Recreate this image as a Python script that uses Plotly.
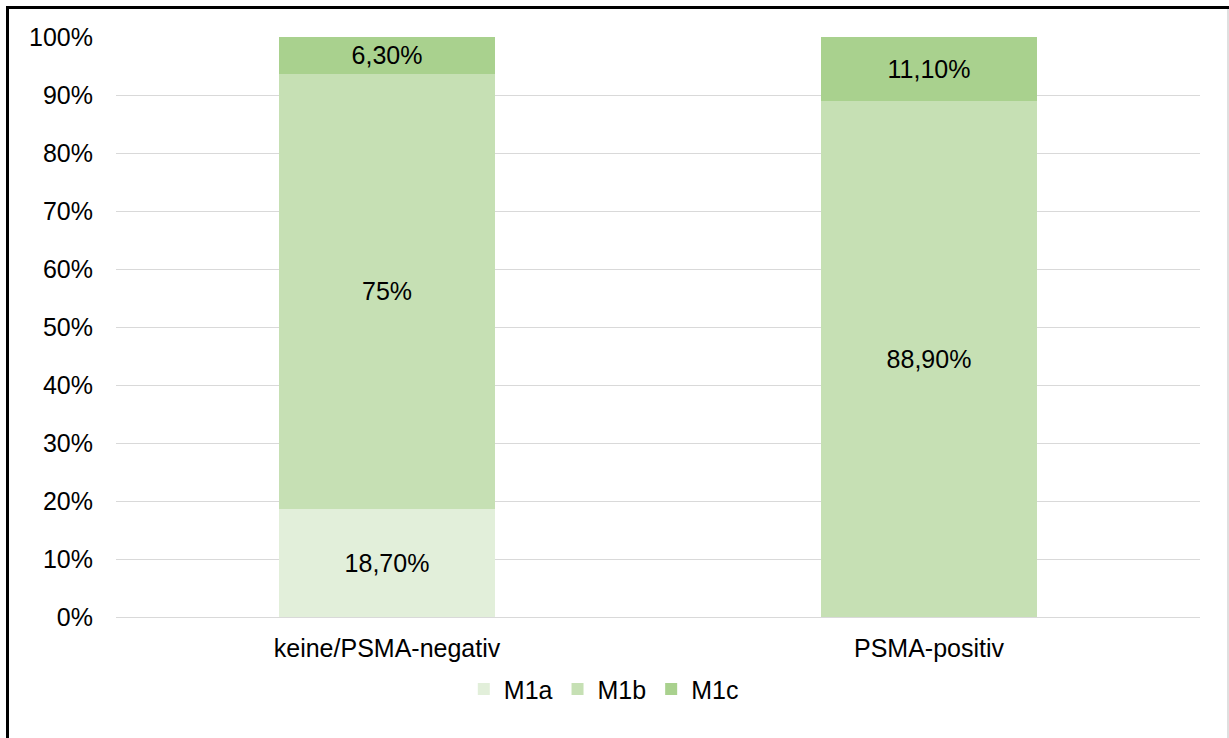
import plotly.graph_objects as go

categories = ["keine/PSMA-negativ", "PSMA-positiv"]
series_names = ["M1a", "M1b", "M1c"]
m1a = [18.7, 0.0]
m1b = [75.0, 88.9]
m1c = [6.3, 11.1]
m1a_labels = ["18,70%", ""]
m1b_labels = ["75%", "88,90%"]
m1c_labels = ["6,30%", "11,10%"]
colors = ["#E2EFDA", "#C6E0B4", "#A9D18E"]
y_ticks = [0, 10, 20, 30, 40, 50, 60, 70, 80, 90, 100]
y_tick_labels = ["0%", "10%", "20%", "30%", "40%", "50%", "60%", "70%", "80%", "90%", "100%"]

FONT = "Liberation Sans, Arial"
FS = 25

fig = go.Figure()
for name, vals, labels, col in zip(series_names, [m1a, m1b, m1c],
                                   [m1a_labels, m1b_labels, m1c_labels], colors):
    fig.add_trace(go.Bar(
        x=categories, y=vals, name=name, text=labels,
        textposition="inside", insidetextanchor="middle",
        textfont=dict(family=FONT, size=FS, color="black"),
        marker=dict(color=col, line=dict(width=0)),
        hoverinfo="skip",
    ))

fig.update_layout(
    barmode="stack",
    bargap=0.6,
    width=1229, height=738,
    margin=dict(l=116, r=29, t=37, b=121),
    plot_bgcolor="white", paper_bgcolor="white",
    font=dict(family=FONT, size=FS, color="black"),
    showlegend=True,
    legend=dict(orientation="h", x=0.45, xanchor="center", y=-0.085, yanchor="top",
                font=dict(size=FS), traceorder="normal"),
    uniformtext=dict(mode=False),
)
fig.update_yaxes(range=[0, 100], tickmode="array", tickvals=y_ticks, ticktext=y_tick_labels,
                 showgrid=True, gridcolor="#D9D9D9", gridwidth=1,
                 zeroline=True, zerolinecolor="#D9D9D9", zerolinewidth=1,
                 showline=False, ticks="", ticklabelstandoff=22,
                 tickfont=dict(size=FS))
fig.update_xaxes(showline=False, ticks="", ticklabelstandoff=14,
                 tickfont=dict(size=FS))

# outer frame (plot area: x 116..1200, y 37..617 in figure pixels)
def px(x):
    return (x - 116) / 1084
def py(y):
    return (617 - y) / 580

fig.add_shape(type="line", xref="paper", yref="paper",
              x0=px(7.5), x1=px(7.5), y0=py(6), y1=py(760),
              line=dict(color="black", width=3))
fig.add_shape(type="line", xref="paper", yref="paper",
              x0=px(6), x1=px(1235), y0=py(7.5), y1=py(7.5),
              line=dict(color="black", width=3))
fig.add_shape(type="line", xref="paper", yref="paper",
              x0=px(1228), x1=px(1228), y0=py(9), y1=py(760),
              line=dict(color="#BFBFBF", width=1))

fig.write_html("out.html", config={"displayModeBar": False},
               post_script="document.body.style.margin='0px';")
